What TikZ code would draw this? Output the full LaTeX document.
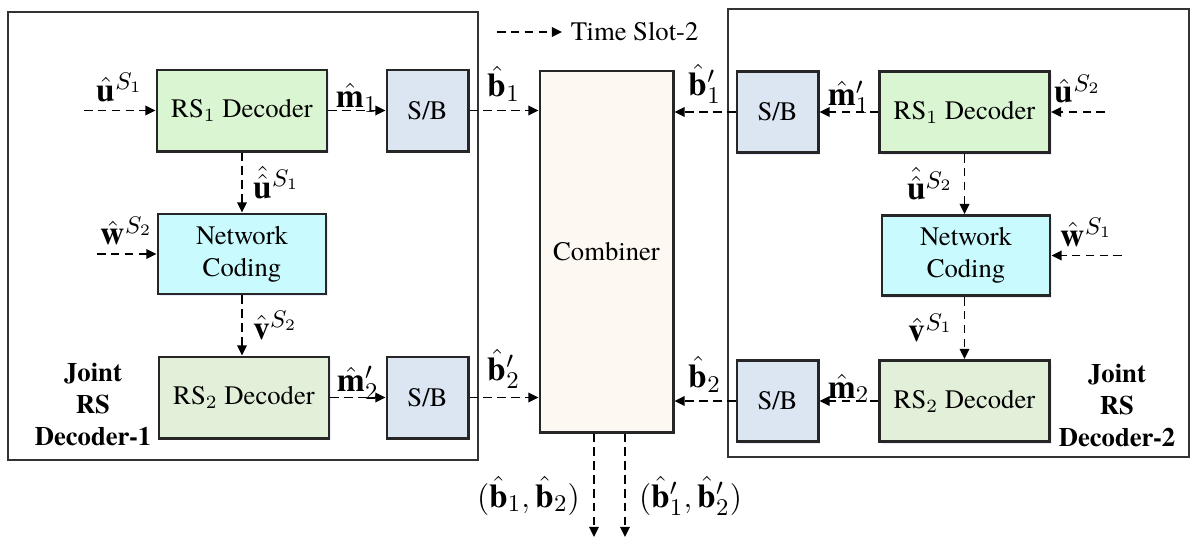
\documentclass[tikz,border=0pt]{standalone}
\usepackage{fontspec}
\setmainfont{texgyretermes}[Extension=.otf, UprightFont=*-regular, BoldFont=*-bold,
  ItalicFont=*-italic, BoldItalicFont=*-bolditalic]
\usetikzlibrary{arrows.meta,shadows}

\definecolor{rsone}{HTML}{D9F5D1}
\definecolor{netc}{HTML}{C9FBFE}
\definecolor{rstwo}{HTML}{E2EFD9}
\definecolor{sbblue}{HTML}{DCE6F2}
\definecolor{combc}{HTML}{FDF8F2}

\tikzset{
  blk/.style={draw=black!85, line width=1.1pt, inner sep=0pt, align=center,
    minimum width=63.75pt, minimum height=30.4pt,
    drop shadow={shadow xshift=0.9pt, shadow yshift=-0.9pt, fill=blue!30, opacity=0.25}},
  sbbox/.style={blk, fill=sbblue, minimum width=30.4pt},
  outer/.style={draw=black!80, line width=0.6pt},
  flow/.style={line width=0.6pt, dash pattern=on 3.2pt off 2pt,
    -{Triangle[length=3.8pt,width=3.6pt]}},
  lbl/.style={inner sep=1pt, font=\fontsize{12.5}{14}\selectfont},
}

\begin{document}
\begin{tikzpicture}[x=0.375pt,y=-0.375pt]
    \useasboundingbox (0,0) rectangle (1193,538);

    % the two joint decoders
    \draw[outer] (8,12) rectangle (478,460);
    \draw[outer] (728,9) rectangle (1189,457);

    \node[blk, fill=rsone] (decA) at (242,110.5) {RS$_1$ Decoder};
    \node[sbbox] (sbA) at (427.5,110.5) {S/B};
    \node[blk, fill=netc, minimum width=63pt, minimum height=30pt] (ncA) at (242,254) {Network\\Coding};
    \node[blk, fill=rstwo] (decB) at (244,397.5) {RS$_2$ Decoder};
    \node[sbbox] (sbB) at (427.5,397.5) {S/B};
    \node[font=\bfseries, align=center] (jA) at (93,405) {Joint\\RS\\Decoder-1};

    \node[blk, fill=combc, minimum width=49.9pt, minimum height=135.4pt] (comb) at (606.5,251.5) {Combiner};

    \node[sbbox] (sbC) at (777.5,112) {S/B};
    \node[blk, fill=rsone] (decC) at (964.5,112) {RS$_1$ Decoder};
    \node[blk, fill=netc, minimum width=63pt, minimum height=30pt] (ncB) at (966,255.5) {Network\\Coding};
    \node[blk, fill=rstwo] (decD) at (964.5,401) {RS$_2$ Decoder};
    \node[sbbox] (sbD) at (777.5,401) {S/B};
    \node[font=\bfseries, align=center] (jB) at (1117,406) {Joint\\RS\\Decoder-2};

    % free ends
    \coordinate (inA) at (84,110.5);
    \coordinate (inB) at (97,254);
    \coordinate (inC) at (1105,112);
    \coordinate (inD) at (1122,255.5);
    \coordinate (tsA) at (497,32);
    \coordinate (tsB) at (562,32);
    \coordinate (outA) at (594,537);
    \coordinate (outB) at (625,537);

    % legend
    \draw[flow] (tsA) -- (tsB) node[right, inner sep=3pt] (tsl) {Time Slot-2};

    % left side
    \draw[flow] (inA) -- node[lbl, above=2pt] (luA) {$\hat{\mathbf{u}}^{S_1}$} (decA);
    \draw[flow] (decA) -- node[lbl, above, yshift=-2pt] (lmA) {$\hat{\mathbf{m}}_1$} (sbA);
    \draw[flow] (sbA.east) -- node[lbl, above=2pt] (lbA) {$\hat{\mathbf{b}}_1$} (sbA.east -| comb.west);
    \draw[flow] (decA) -- node[lbl, right, xshift=3pt] (luuA) {$\hat{\hat{\mathbf{u}}}{}^{S_1}$} (ncA);
    \draw[flow] (inB) -- node[lbl, above=2pt] (lwA) {$\hat{\mathbf{w}}^{S_2}$} (ncA);
    \draw[flow] (ncA.south) -- node[lbl, right, xshift=3pt] (lvA) {$\hat{\mathbf{v}}^{S_2}$} (ncA.south |- decB.north);
    \draw[flow] (decB) -- node[lbl, above, yshift=-2pt] (lmB) {$\hat{\mathbf{m}}'_2$} (sbB);
    \draw[flow] (sbB.east) -- node[lbl, above=2pt] (lbB) {$\hat{\mathbf{b}}'_2$} (sbB.east -| comb.west);

    % right side
    \draw[flow] (inC) -- node[lbl, above=2pt] (luC) {$\hat{\mathbf{u}}^{S_2}$} (decC);
    \draw[flow] (decC) -- node[lbl, above, yshift=-2pt] (lmC) {$\hat{\mathbf{m}}'_1$} (sbC);
    \draw[flow] (sbC.west) -- node[lbl, above=2pt] (lbC) {$\hat{\mathbf{b}}'_1$} (sbC.west -| comb.east);
    \draw[flow] (decC.south) -- node[lbl, left, xshift=-3pt] (luuC) {$\hat{\hat{\mathbf{u}}}{}^{S_2}$} (decC.south |- ncB.north);
    \draw[flow] (inD) -- node[lbl, above=2pt] (lwC) {$\hat{\mathbf{w}}^{S_1}$} (ncB);
    \draw[flow] (decC.south |- ncB.south) -- node[lbl, left, xshift=-3pt] (lvC) {$\hat{\mathbf{v}}^{S_1}$} (decC.south |- decD.north);
    \draw[flow] (decD) -- node[lbl, above, yshift=-2pt] (lmD) {$\hat{\mathbf{m}}_2$} (sbD);
    \draw[flow] (sbD.west) -- node[lbl, above=2pt] (lbD) {$\hat{\mathbf{b}}_2$} (sbD.west -| comb.east);

    % combiner outputs
    \draw[flow] (outA |- comb.south) -- node[lbl, left, pos=0.6, xshift=-4pt] (loA) {$(\hat{\mathbf{b}}_1,\hat{\mathbf{b}}_2)$} (outA);
    \draw[flow] (outB |- comb.south) -- node[lbl, right, pos=0.6, xshift=4pt] (loB) {$(\hat{\mathbf{b}}'_1,\hat{\mathbf{b}}'_2)$} (outB);
\end{tikzpicture}
\end{document}
